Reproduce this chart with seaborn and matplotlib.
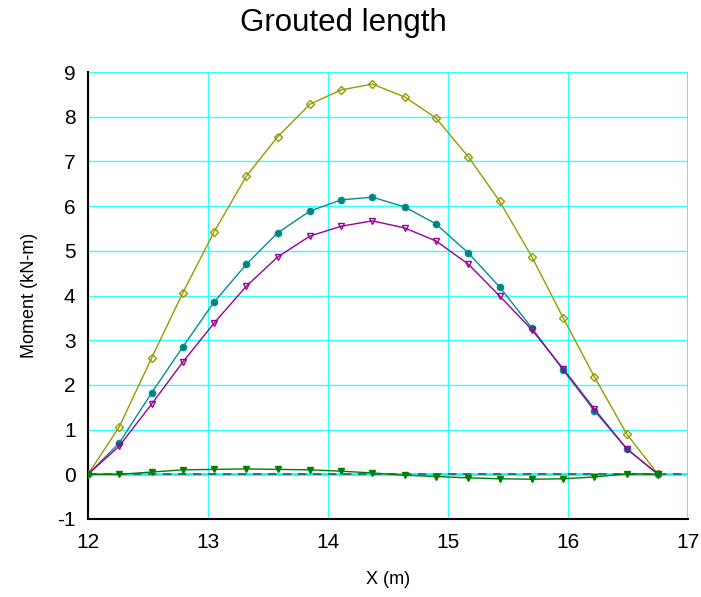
import matplotlib
matplotlib.use("Agg")
import matplotlib.pyplot as plt
import seaborn as sns
import pandas as pd
import numpy as np

x = [12.0, 12.26, 12.53, 12.79, 13.05, 13.32, 13.58, 13.85, 14.11, 14.37,
     14.64, 14.90, 15.17, 15.43, 15.70, 15.96, 16.22, 16.49, 16.75]
gold = [0.0, 1.06, 2.60, 4.06, 5.42, 6.67, 7.55, 8.28, 8.60, 8.73,
        8.44, 7.97, 7.10, 6.11, 4.86, 3.50, 2.18, 0.90, 0.0]
teal = [0.0, 0.70, 1.82, 2.85, 3.85, 4.70, 5.40, 5.89, 6.14, 6.20,
        5.98, 5.60, 4.95, 4.19, 3.27, 2.33, 1.42, 0.57, 0.0]
purple = [0.0, 0.63, 1.57, 2.51, 3.38, 4.21, 4.86, 5.33, 5.55, 5.67,
          5.51, 5.22, 4.70, 3.99, 3.23, 2.36, 1.46, 0.57, 0.0]
green = [0.0, 0.00, 0.05, 0.10, 0.11, 0.12, 0.11, 0.10, 0.07, 0.03,
         -0.02, -0.05, -0.08, -0.10, -0.11, -0.10, -0.06, 0.01, 0.0]

xticks = [12, 13, 14, 15, 16, 17]
yticks = [-1, 0, 1, 2, 3, 4, 5, 6, 7, 8, 9]

sns.set_style("white")
plt.rcParams['font.family'] = ['Liberation Sans', 'DejaVu Sans']
plt.rcParams['axes.unicode_minus'] = False
plt.rcParams['text.color'] = 'black'
plt.rcParams['axes.labelcolor'] = 'black'
plt.rcParams['xtick.color'] = 'black'
plt.rcParams['ytick.color'] = 'black'

fig = plt.figure(figsize=(7.01, 5.97), dpi=100)
ax = fig.add_axes([88/701, 78/597, 600/701, 447/597])

for vals, col, mk, fill in [
    (gold, "#999900", "D", "none"),
    (teal, "#009090", "o", "#008080"),
    (purple, "#990099", "v", "none"),
    (green, "#008000", "v", "#008000"),
]:
    df = pd.DataFrame({"x": x, "y": vals})
    sns.lineplot(data=df, x="x", y="y", ax=ax, color=col, lw=1.0,
                 marker=mk, markersize=4.5 if mk != "D" else 3.8,
                 markerfacecolor=fill, markeredgecolor=col, markeredgewidth=1.0,
                 zorder=4)

ax.axhline(0, color="#00FFFF", lw=2.0, zorder=2)
ax.axhline(0, color="#2F6060", lw=1.2, ls=(0, (5, 4)), zorder=3)

ax.set_xlim(12, 17)
ax.set_ylim(-1, 9)
ax.set_xticks(xticks)
ax.set_yticks(yticks)
ax.grid(True, color="#33FFFF", lw=1.0, zorder=0)
ax.set_axisbelow(True)

for s in ["top", "right"]:
    ax.spines[s].set_visible(False)
for s in ["left", "bottom"]:
    ax.spines[s].set_color("black")
    ax.spines[s].set_linewidth(1.5)
ax.tick_params(axis="x", direction="in", length=10, width=1.5, labelsize=15, pad=10)
ax.tick_params(axis="y", direction="inout", length=14, width=1.5, labelsize=15, pad=2)
ax.axhline(9, color="#33FFFF", lw=1.5, zorder=1)
ax.axvline(17, color="#33FFFF", lw=1.5, zorder=1)

ax.set_xlabel("X (m)", fontsize=13, labelpad=14)
ax.set_ylabel("Moment (kN-m)", fontsize=13, labelpad=14)
fig.suptitle("Grouted length", fontsize=22.5, x=343/701, y=1 - 23/597, va="center")

fig.savefig("out.png", dpi=100)
